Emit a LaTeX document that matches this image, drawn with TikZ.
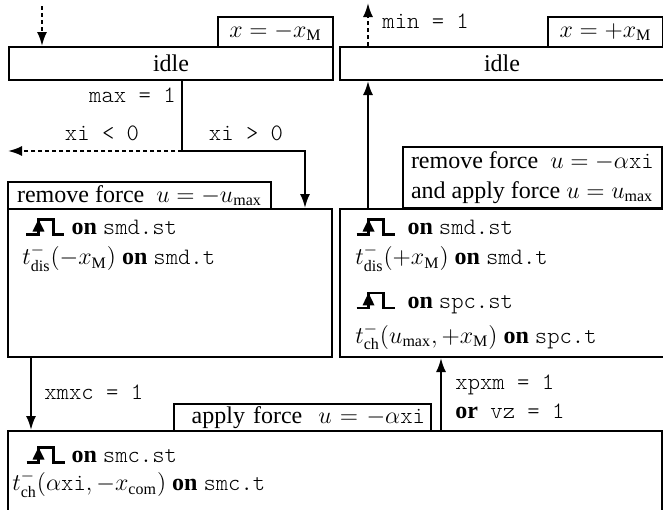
\documentclass[tikz,border=0pt]{standalone}
\usepackage{amsmath}
\usepackage{fontspec}
\setmainfont{Liberation Serif}
\setmonofont[Scale=0.98]{lmmonolt10-regular.otf}
\usetikzlibrary{positioning, arrows.meta}

% rising pulse symbol
\newcommand{\pulse}{\tikz[baseline=0pt, line width=1.1pt]{
  \draw (0pt,0pt) -- (6pt,0pt) -- (6pt,7.5pt) -- (13.5pt,7.5pt) -- (13.5pt,0pt) -- (19pt,0pt);
  \fill (6pt,7.6pt) -- (3pt,1.5pt) -- (9pt,1.5pt) -- cycle;}}

\begin{document}
\begin{tikzpicture}[x=0.5pt, y=-0.5pt,
      every node/.append style={font=\fontsize{12}{14.4}\selectfont},
      box/.style={rectangle, draw, line width=1pt, inner sep=0pt},
      txt/.style={anchor=north west, align=left, inner sep=0pt},
      cond/.style={inner sep=0pt, font=\ttfamily\fontsize{12}{14.4}\selectfont},
      arrow/.style={-{Latex[length=7pt,width=5pt]}, line width=1pt},
      dasharrow/.style={arrow, dash pattern=on 2pt off 1.5pt}
    ]
      \useasboundingbox (0,0) rectangle (663,509);
      \clip (0,0) rectangle (663,509);

      % Idle states
      \node[box, minimum width=162pt, minimum height=16.5pt] (idleL) at (171,63.5) {idle};
      \node[box, minimum width=57.5pt, minimum height=15pt] (posL) at (275.5,32) {$x=-x_{\mathrm{M}}$};
      \node[box, minimum width=162pt, minimum height=16.5pt] (idleR) at (502,63.5) {idle};
      \node[box, minimum width=57.5pt, minimum height=15pt] (posR) at (605.5,32) {$x=+x_{\mathrm{M}}$};

      % Discharge states
      \node[box, minimum width=162pt, minimum height=74pt] (bigL) at (170,283) {};
      \node[box, minimum width=131.5pt, minimum height=13.5pt] (labL) at (139.5,195.5)
        {remove force\ \ $u=-u_{\max}$};
      \node[txt] (txtL) at (22,218) {%
        \hspace{1.5pt}\pulse\ \textbf{on} \texttt{smd.st}\\[0.6pt]
        $t^{-}_{\mathrm{dis}}(-x_{\mathrm{M}})$\ \textbf{on} \texttt{smd.t}
      };

      \node[box, minimum width=162pt, minimum height=74pt] (bigR) at (502,283) {};
      \node[box, anchor=south west, align=left, inner xsep=4pt, minimum height=30.5pt] (labR) at (402,209)
        {remove force\ \ $u=-\alpha\texttt{xi}$\\[0.6pt]
         and apply force $u=u_{\max}$};
      \node[txt] (txtR) at (355,218) {%
        \pulse\ \ \textbf{on} \texttt{smd.st}\\[0.6pt]
        $t^{-}_{\mathrm{dis}}(+x_{\mathrm{M}})$\ \textbf{on} \texttt{smd.t}\\[7.5pt]
        \pulse\ \ \textbf{on} \texttt{spc.st}\\[3pt]
        $t^{-}_{\mathrm{ch}}(u_{\max},+x_{\mathrm{M}})$\ \textbf{on} \texttt{spc.t}
      };

      % Charge state
      \node[box, minimum width=327pt, minimum height=40.5pt] (low) at (335,471.5) {};
      \node[box, align=right, text width=122.5pt, inner xsep=3pt, minimum height=13.5pt] (labC) at (302.5,417.5)
        {apply force\ \ $u=-\alpha\texttt{xi}$};
      \node[txt] (txtC) at (12,446) {%
        \hspace{6.5pt}\pulse\ \textbf{on} \texttt{smc.st}\\[-0.4pt]
        $t^{-}_{\mathrm{ch}}(\alpha\texttt{xi},-x_{\mathrm{com}})$ \textbf{on} \texttt{smc.t}
      };

      % Conditions
      \node[cond, anchor=east] (maxc) at (176,95) {max = 1};
      \node[cond] (negc) at (102,133) {xi < 0};
      \node[cond] (posc) at (246,133) {xi > 0};
      \node[cond, anchor=west] (minc) at (382,21) {min = 1};
      \node[cond, anchor=west] (xmxc) at (44,392) {xmxc = 1};
      \node[cond, anchor=west, align=left] (xpxm) at (455,397)
        {xpxm = 1\\[0.1pt]{\rmfamily\bfseries or} vz = 1};

      % Arrows
      \coordinate (inL) at (42,6);
      \coordinate (split) at (182,151);
      \coordinate (leftout) at (8,151);
      \coordinate (turn) at (305,151);
      \coordinate (outR) at (368,3);
      \draw[dasharrow] (inL) -- (inL |- idleL.north);
      \draw[line width=1pt] (split |- idleL.south) -- (split);
      \draw[dasharrow] (split) -- (leftout);
      \draw[arrow] (split) -- (turn) -- (turn |- bigL.north);
      \draw[arrow] ([xshift=12pt]bigL.south west) -- ([xshift=12pt]bigL.south west |- low.north);
      \draw[arrow] ([xshift=51pt]bigR.south west |- low.north) -- ([xshift=51pt]bigR.south west);
      \draw[arrow] ([xshift=14.5pt]bigR.north west) -- ([xshift=14.5pt]bigR.north west |- idleR.south);
      \draw[dasharrow] (outR |- idleR.north) -- (outR);
    \end{tikzpicture}
\end{document}
